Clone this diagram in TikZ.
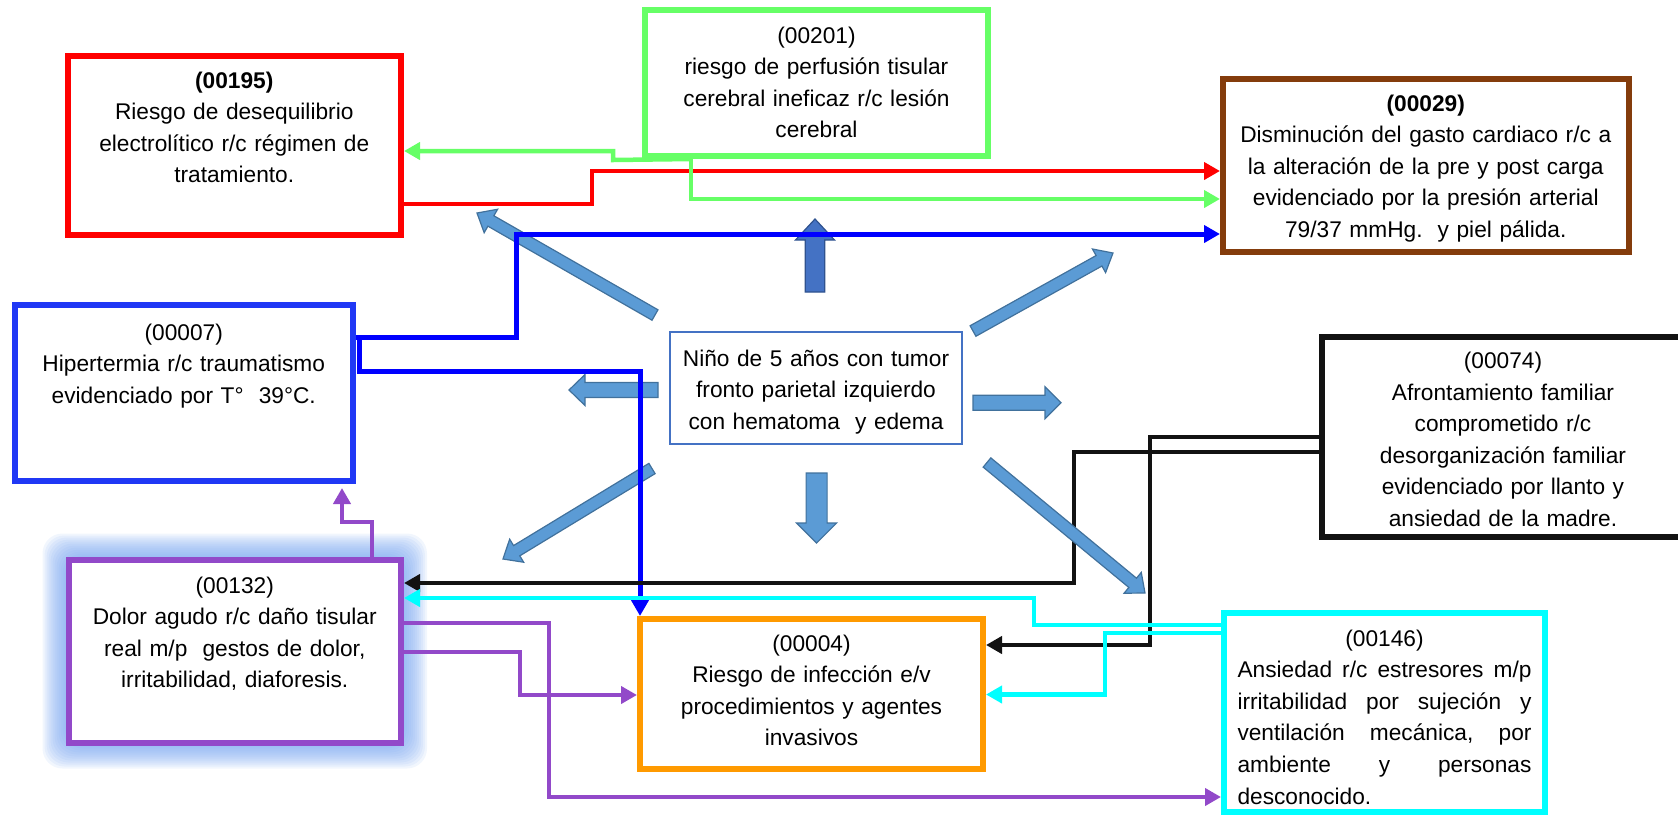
\documentclass[tikz,border=0pt]{standalone}
\usepackage{fontspec}
\setmainfont{Liberation Sans}
\usetikzlibrary{arrows.meta}

\definecolor{cRed}{RGB}{255,0,0}
\definecolor{cGreen}{RGB}{102,255,102}
\definecolor{cBrown}{RGB}{132,60,12}
\definecolor{cBlueBox}{RGB}{32,56,245}
\definecolor{cBlueLine}{RGB}{0,0,255}
\definecolor{cCenter}{RGB}{68,114,196}
\definecolor{cBlack}{RGB}{18,18,18}
\definecolor{cPurple}{RGB}{146,73,201}
\definecolor{cOrange}{RGB}{255,154,0}
\definecolor{cCyan}{RGB}{0,255,255}
\definecolor{cGlow}{RGB}{120,165,240}
\definecolor{cArrowFill}{RGB}{91,155,213}
\definecolor{cArrowEdge}{RGB}{65,113,156}
\definecolor{cUpFill}{RGB}{68,114,196}
\definecolor{cUpEdge}{RGB}{47,82,143}

% block arrow: fill, edge, x1, y1, x2 (tip), y2 (tip), shaft width, head width, head length
\newcommand\blockarrow[9]{%
  \pgfmathsetmacro\bdx{#5-#3}%
  \pgfmathsetmacro\bdy{#6-#4}%
  \pgfmathsetmacro\blen{veclen(\bdx,\bdy)}%
  \pgfmathsetmacro\bux{\bdx/\blen}%
  \pgfmathsetmacro\buy{\bdy/\blen}%
  \pgfmathsetmacro\bnx{#5-#9*\bux}%
  \pgfmathsetmacro\bny{#6-#9*\buy}%
  \pgfmathsetmacro\bsx{-0.5*#7*\buy}%
  \pgfmathsetmacro\bsy{0.5*#7*\bux}%
  \pgfmathsetmacro\bhx{-0.5*#8*\buy}%
  \pgfmathsetmacro\bhy{0.5*#8*\bux}%
  \filldraw[fill=#1, draw=#2, line width=0.6pt, line join=miter]
    ({#3+(\bsx)},{#4+(\bsy)}) -- ({\bnx+(\bsx)},{\bny+(\bsy)})
    -- ({\bnx+(\bhx)},{\bny+(\bhy)}) -- (#5,#6)
    -- ({\bnx-(\bhx)},{\bny-(\bhy)}) -- ({\bnx-(\bsx)},{\bny-(\bsy)})
    -- ({#3-(\bsx)},{#4-(\bsy)}) -- cycle;
}

% one justified line of the anxiety box
\newcommand\jline[1]{\makebox[147pt][l]{#1}}

\tikzset{
  box/.style={draw, line width=3pt, fill=white, inner sep=0pt, align=center,
    font=\fontsize{11.35}{15.8}\selectfont},
  conn/.style={line width=2.25pt, line join=miter, -{Triangle[length=8pt,width=8.5pt]}},
}

\begin{document}
\begin{tikzpicture}[x=0.5pt,y=-0.5pt]
\useasboundingbox (0,0) rectangle (1678,816);

% soft halo behind the pain box
\foreach \d in {26,24,...,2}
  \fill[cGlow, opacity=0.1, rounded corners=10pt]
    ({68.5-\d},{559.5-\d}) rectangle ({401+\d},{742.5+\d});

% diagnosis boxes
\node[box, draw=cRed, text width=166.75pt, text height=16pt, text depth=73.5pt]
  (n195) at (234.25,145.5)
  {\textbf{(00195)}\\Riesgo de desequilibrio\\electrolítico r/c régimen de\\tratamiento.};

\node[box, draw=cGreen, text width=171.5pt, text height=16.5pt, text depth=56.5pt]
  (n201) at (816.5,83)
  {(00201)\\riesgo de perfusión tisular\\cerebral ineficaz r/c lesión\\cerebral};

\node[box, draw=cBrown, text width=202.75pt, text height=16pt, text depth=70.5pt]
  (n029) at (1425.75,165.5)
  {\textbf{(00029)}\\Disminución del gasto cardiaco r/c a\\la alteración de la pre y post carga\\evidenciado por la presión arterial\\79/37 mmHg.\ \ y piel pálida.};

\node[box, draw=cBlueBox, text width=169.25pt, text height=17.5pt, text depth=70.5pt]
  (n007) at (183.75,393)
  {(00007)\\Hipertermia r/c traumatismo\\evidenciado por T°\ \ 39°C.};

\node[box, draw=cCenter, line width=1.35pt, text width=146pt, text height=17pt, text depth=39pt]
  (nino) at (816,388)
  {Niño de 5 años con tumor\\fronto parietal izquierdo\\con hematoma\ \ y edema};

\node[box, draw=cBlack, text width=181pt, text height=16pt, text depth=84pt]
  (n074) at (1503,436.5)
  {(00074)\\Afrontamiento familiar\\comprometido r/c\\desorganización familiar\\evidenciado por llanto y\\ansiedad de la madre.};

\node[box, draw=cPurple, text width=166.25pt, text height=16.75pt, text depth=74.75pt]
  (n132) at (234.75,651)
  {(00132)\\Dolor agudo r/c daño tisular\\real m/p\ \ gestos de dolor,\\irritabilidad, diaforesis.};

\node[box, draw=cOrange, text width=171.5pt, text height=16pt, text depth=59pt]
  (n004) at (811.5,694)
  {(00004)\\Riesgo de infección e/v\\procedimientos y agentes\\invasivos};

\node[box, draw=cCyan, text width=160.5pt, text height=16.5pt, text depth=83pt]
  (n146) at (1384.5,712.5)
  {(00146)\\
   \jline{Ansiedad \hfill r/c \hfill estresores \hfill m/p}\\
   \jline{irritabilidad \hfill por \hfill sujeción \hfill y}\\
   \jline{ventilación \hfill mecánica, \hfill por}\\
   \jline{ambiente \hfill y \hfill personas}\\
   \jline{desconocido.}};

% block arrows radiating from the central case (under the connectors)
\blockarrow{cUpFill}{cUpEdge}{815}{292}{815}{219}{19.5}{39}{21}
\blockarrow{cArrowFill}{cArrowEdge}{658}{390}{569}{390}{15}{31}{16}
\blockarrow{cArrowFill}{cArrowEdge}{973}{402.7}{1061}{402.7}{15}{32}{16}
\blockarrow{cArrowFill}{cArrowEdge}{816.6}{473}{816.6}{543}{21}{40}{20}
\blockarrow{cArrowFill}{cArrowEdge}{652}{468.5}{503}{559}{12}{27}{16}
\blockarrow{cArrowFill}{cArrowEdge}{973}{331}{1113}{253}{12}{27}{16}
\blockarrow{cArrowFill}{cArrowEdge}{655}{315}{477}{213}{12}{27}{16}

% connectors
\draw[conn, draw=cRed] (n195.east |- 0,204) -- (592,204) -- (592,171) -- (n029.west |- 0,171);

\draw[conn, draw=cGreen] (n201.south -| 691,0) -- (691,199) -- (n029.west |- 0,199);
\draw[conn, draw=cGreen] (n201.south -| 691,0) -- (613,160) -- (613,151) -- (n195.east |- 0,151);

\draw[conn, draw=cBlueLine, line width=2.5pt] (n007.east |- 0,337) -- (516,337) -- (516,234) -- (n029.west |- 0,234);
\draw[conn, draw=cBlueLine, line width=2.5pt] (n007.east |- 0,337) -- (359,337) -- (359,371) -- (640,371) -- (n004.north -| 640,0);

\draw[conn, draw=cBlack] (n074.west |- 0,437) -- (1150,437) -- (1150,645) -- (n004.east |- 0,645);
\draw[conn, draw=cBlack] (n074.west |- 0,452) -- (1074,452) -- (1074,583) -- (n132.east |- 0,583);

\draw[conn, draw=cCyan] (n146.west |- 0,625) -- (1034,625) -- (1034,598) -- (n132.east |- 0,598);
\draw[conn, draw=cCyan] (n146.west |- 0,633) -- (1105,633) -- (1105,694.5) -- (n004.east |- 0,694.5);

\draw[conn, draw=cPurple, shorten >=2pt] (n132.north -| 372,0) -- (372,522) -- (342,522) -- (n007.south -| 342,0);
\draw[conn, draw=cPurple] (n132.east |- 0,623) -- (549,623) -- (549,797) -- (n146.west |- 0,797);
\draw[conn, draw=cPurple] (n132.east |- 0,652) -- (520,652) -- (520,695) -- (n004.west |- 0,695);

% this arrow lies over the family-coping connector
\blockarrow{cArrowFill}{cArrowEdge}{987}{462.5}{1145}{593}{12}{27}{16}

\end{tikzpicture}
\end{document}
